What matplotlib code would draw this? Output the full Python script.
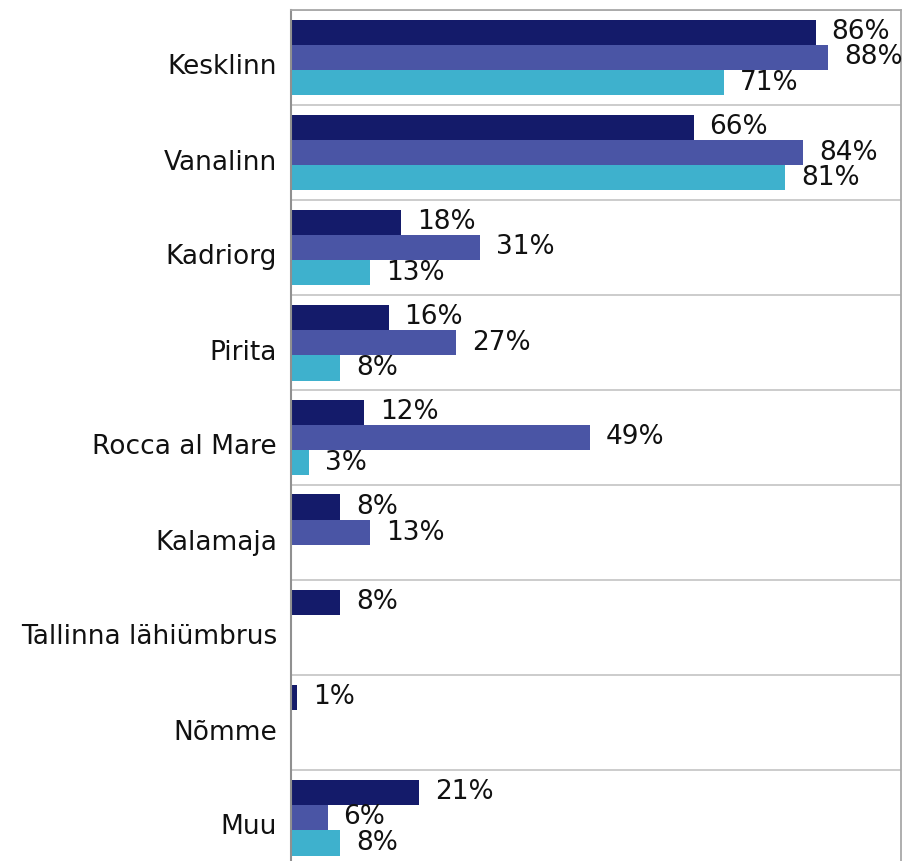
import numpy as np
import matplotlib
matplotlib.use('Agg')
import matplotlib.pyplot as plt
import matplotlib.transforms as mtransforms

plt.rcParams['font.family'] = ['DejaVu Sans']

categories = ['Kesklinn', 'Vanalinn', 'Kadriorg', 'Pirita', 'Rocca al Mare',
              'Kalamaja', 'Tallinna lähiümbrus', 'Nõmme', 'Muu']
s1 = [86, 66, 18, 16, 12, 8, 8, 1, 21]
s2 = [88, 84, 31, 27, 49, 13, None, None, 6]
s3 = [71, 81, 13, 8, 3, None, None, None, 8]

COLORS = ['#141B6A', '#4A55A5', '#3EB1CD']
FS = 19

fig = plt.figure(figsize=(9.07, 8.61), dpi=100)
ax = fig.add_axes([291/907, -4/861, 610/907, 855/861])

n = len(categories)
h = 0.8/3
for j, (vals, col) in enumerate(zip([s1, s2, s3], COLORS)):
    for i, v in enumerate(vals):
        if v is None:
            continue
        y = i - 0.4 + h*(j+0.5)
        ax.barh(y, v, height=h, color=col, edgecolor='none')
        ax.annotate(f'{v}%', xy=(v, y), xytext=(11.5, 0), textcoords='offset points',
                    va='center', ha='left', fontsize=FS, color='#111111')

ax.set_xlim(0, 100)
ax.set_ylim(n-0.5, -0.5)
for k in range(n):
    ax.axhline(k-0.5, color='#C8C8C8', lw=1.3, zorder=0)
ax.set_xticks([])
ax.set_yticks(range(n))
ax.set_yticklabels(categories, fontsize=FS, color='#111111')
ax.tick_params(axis='y', length=0, pad=10)
off = mtransforms.ScaledTranslation(0, -7/100, fig.dpi_scale_trans)
for lbl in ax.get_yticklabels():
    lbl.set_transform(lbl.get_transform() + off)
for sp in ['top', 'right']:
    ax.spines[sp].set_color('#A8A8A8')
    ax.spines[sp].set_linewidth(1.3)
ax.spines['left'].set_color('#909090')
ax.spines['left'].set_linewidth(1.5)
ax.spines['bottom'].set_visible(False)

fig.savefig('out.png')
